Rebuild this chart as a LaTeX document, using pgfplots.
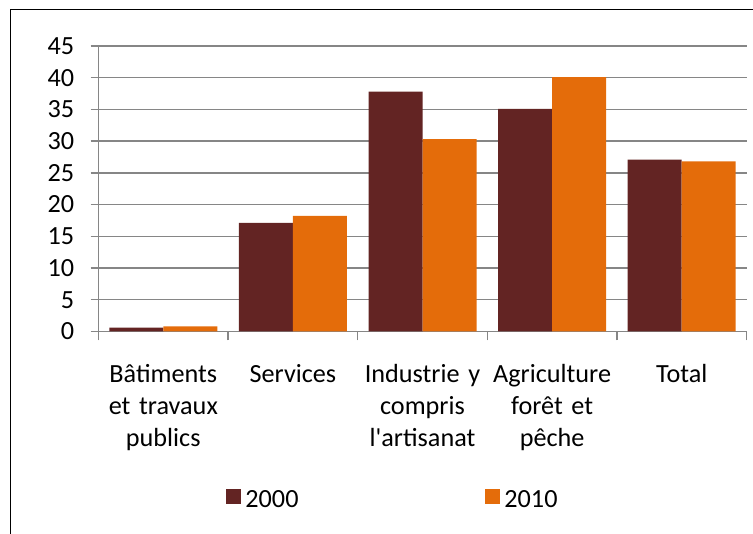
\documentclass[border=0pt]{standalone}
\usepackage{fontspec}
\setmainfont{Carlito}
\usepackage{pgfplots}
\pgfplotsset{compat=1.18}
\definecolor{c2000}{RGB}{99,36,35}
\definecolor{c2010}{RGB}{228,108,10}
\definecolor{gridgray}{RGB}{134,134,134}
\newcommand{\lblfont}{\fontsize{13.1pt}{15.8pt}\selectfont}
\begin{document}
\lblfont
\begin{tikzpicture}
\useasboundingbox (0,0) rectangle (376.5pt,267pt);
\draw[line width=0.75pt] (5.25pt,-5pt) -- (5.25pt,262.25pt) -- (380pt,262.25pt);
\begin{axis}[
  at={(49.25pt,101.3pt)}, anchor=south west,
  scale only axis, width=324pt, height=142.7pt,
  xmin=-0.5, xmax=4.5, ymin=0, ymax=45,
  ytick={0,5,...,45},
  xtick={0,1,2,3,4},
  xticklabels={{\strut B\^atiments\\et travaux\\publics},{\strut Services},{\strut Industrie y\\compris\\l\textquotesingle artisanat},{\strut Agriculture\\for\^et et\\p\^eche},{\strut Total}},
  minor xtick={-0.5,0.5,1.5,2.5,3.5,4.5},
  axis lines*=left,
  axis line style={gridgray, line width=0.75pt},
  ymajorgrids, major grid style={gridgray, line width=0.75pt},
  tick align=outside, major tick length=4pt, minor tick length=4.5pt,
  tick style={gridgray, line width=0.75pt},
  major x tick style={draw=none},
  /pgf/number format/assume math mode=true,
  yticklabel style={anchor=east, inner sep=0pt, xshift=-8pt, font=\lblfont},
  xticklabel style={anchor=north, inner sep=0pt, align=center, text width=66pt, yshift=-10.5pt, font=\lblfont},
  ybar, bar width=27pt,
  legend columns=2,
  legend style={at={(0.1968,-0.593)}, anchor=west, draw=none, fill=none, font=\lblfont, inner sep=0pt, column sep=0pt},
  legend image code/.code={\fill[#1] (0pt,-1.8pt) rectangle (7.5pt,5.7pt);},
]
\addplot[fill=c2000, draw=none, bar shift=-13.5pt] coordinates {(0,0.6) (1,17.1) (2,37.8) (3,35.1) (4,27.1)};
\addplot[fill=c2010, draw=none, bar shift=13.5pt] coordinates {(0,0.8) (1,18.2) (2,30.3) (3,40.1) (4,26.8)};
\legend{\makebox[118pt][l]{2000},2010}
\end{axis}
\end{tikzpicture}
\end{document}
